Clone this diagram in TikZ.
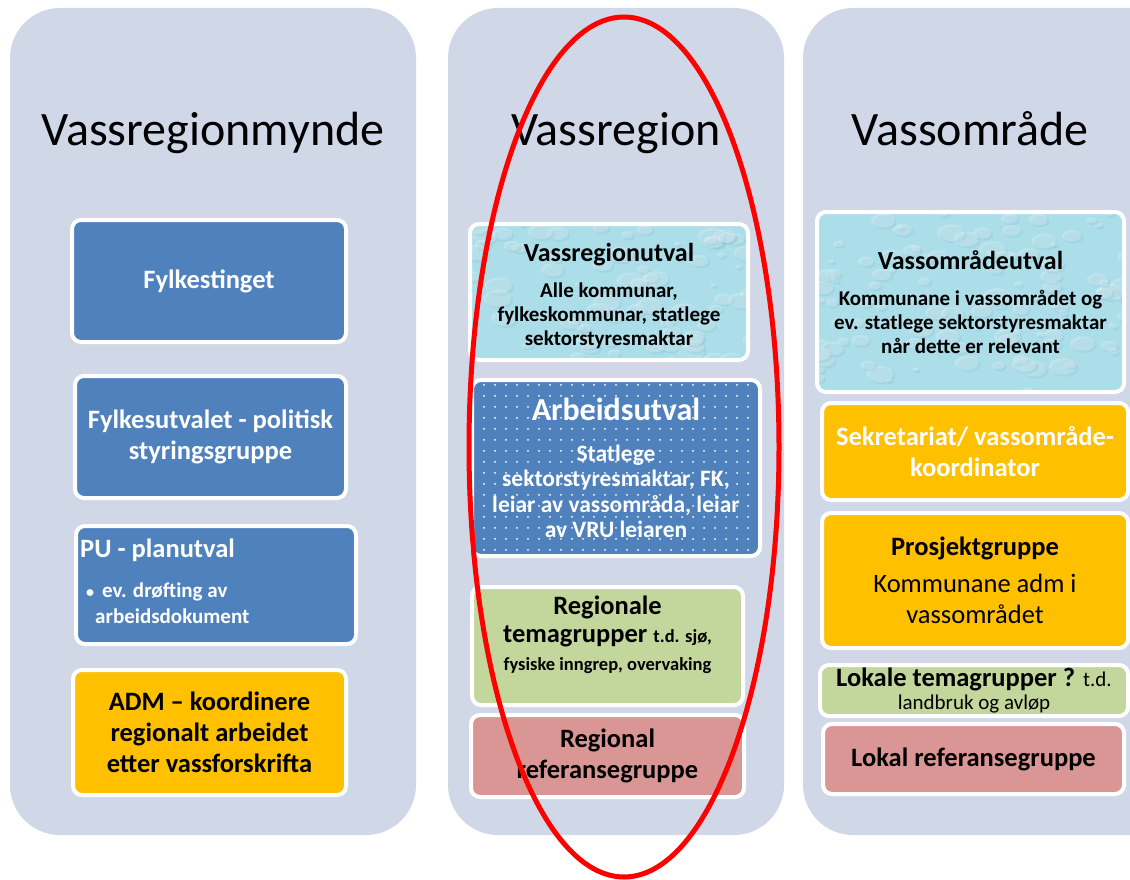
\documentclass[tikz,border=0pt]{standalone}
\usepackage{fontspec}
\setmainfont{Carlito}
\usetikzlibrary{positioning,patterns.meta,calc}
\definecolor{panelGray}{RGB}{208,216,232}
\definecolor{boxBlue}{RGB}{79,129,189}
\definecolor{boxOrange}{RGB}{255,192,0}
\definecolor{boxGreen}{RGB}{195,214,155}
\definecolor{boxPink}{RGB}{217,150,148}
\definecolor{waterCyan}{RGB}{172,222,233}
\definecolor{waterDark}{RGB}{105,170,192}
\definecolor{ringRed}{RGB}{255,0,0}
\tikzset{
  panel/.style={fill=panelGray, rounded corners=50pt},
  coltitle/.style={anchor=base, font=\fontsize{48}{58}\selectfont},
  box/.style={draw=white, line width=4pt, rounded corners=9pt, align=center, inner sep=3pt},
  bluebox/.style={box, fill=boxBlue, text=white, font=\fontsize{26.5}{31}\selectfont\bfseries},
  orangebox/.style={box, fill=boxOrange, font=\fontsize{26.5}{31}\selectfont\bfseries},
  greenbox/.style={box, fill=boxGreen, font=\fontsize{26.5}{30}\selectfont\bfseries},
  pinkbox/.style={box, fill=boxPink, font=\fontsize{26.5}{31}\selectfont\bfseries},
  dotbox/.style={box, fill=boxBlue, text=white, font=\fontsize{23.5}{25.5}\selectfont\bfseries,
    postaction={pattern={Dots[distance=11pt, radius=1pt]}, pattern color=white}},
  waterbox/.style={box, fill=waterCyan, font=\fontsize{21}{24}\selectfont\bfseries,
    path picture={
      \pgfmathsetseed{#1}
      \foreach \i in {1,...,110}{
        \pgfmathsetmacro\dx{rnd*320}
        \pgfmathsetmacro\dy{rnd*190}
        \pgfmathsetmacro\dr{3+rnd*11}
        \fill[waterDark, opacity=.16] ($(path picture bounding box.north west)+(\dx+2,\dy+2)$) ellipse[x radius=\dr, y radius=.6*\dr];
        \fill[white, opacity=.22] ($(path picture bounding box.north west)+(\dx,\dy)$) ellipse[x radius=\dr, y radius=.6*\dr];
      }}},
  boxtext/.style={align=center, inner sep=0pt}
}

\begin{document}
\begin{tikzpicture}[x=1pt, y=-1pt]
  \useasboundingbox (0,0) rectangle (1130,880);

  % columns
  \fill[panel] (10,8) rectangle (416,835);
  \fill[panel] (448,8) rectangle (784,835);
  \fill[panel] (803,8) rectangle (1180,835);
  \node[coltitle] (tmynde) at (213,146) {Vassregionmynde};
  \node[coltitle] (tregion) at (616,146) {Vassregion};
  \node[coltitle] (tomraade) at (970,146) {Vassområde};

  % Vassregionmynde
  \node[bluebox, minimum width=274pt, minimum height=122pt] (fylk) at (209,281) {Fylkestinget};
  \node[bluebox, minimum width=271pt, minimum height=122pt] (fylkut) at (210.5,437) {Fylkesutvalet - politisk\\styringsgruppe};
  \node[bluebox, minimum width=280pt, minimum height=118pt] (pu) at (216,585) {};
  \node[boxtext, align=left, text=white, font=\fontsize{21}{26}\selectfont\bfseries, below right=15pt and 6pt of pu.north west] (putxt)
    {{\fontsize{26.5}{30}\selectfont PU - planutval}\\[14pt]
     \hspace*{6pt}{\fontsize{16}{20}\selectfont\textbullet}\hspace{8pt}ev. drøfting av\\ \hspace*{15pt}arbeidsdokument};
  \node[orangebox, minimum width=273pt, minimum height=125pt] (adm) at (209.5,732.5) {ADM -- koordinere\\regionalt arbeidet\\etter vassforskrifta};

  % Vassregion
  \node[waterbox=3, minimum width=278pt, minimum height=136pt] (vru) at (609,292) {};
  \node[boxtext, font=\fontsize{21}{24}\selectfont\bfseries] (vrutxt) at (609,296)
    {{\fontsize{26}{28}\selectfont Vassregionutval}\\[12pt] Alle kommunar,\\fylkeskommunar, statlege\\sektorstyresmaktar};
  \node[dotbox, minimum width=288pt, minimum height=176pt] (au) at (616,468)
    {{\fontsize{32}{34}\selectfont Arbeidsutval}\\[15pt] Statlege\\sektorstyresmaktar, FK,\\leiar av vassområda, leiar\\av VRU leiaren};
  \node[greenbox, minimum width=271pt, minimum height=118pt] (rtg) at (607.5,646) {};
  \node[boxtext, font=\fontsize{26.5}{28}\selectfont\bfseries, below=11pt of rtg.north] (rtgtxt)
    {Regionale\\temagrupper {\fontsize{18.5}{22}\selectfont t.d. sjø,}\\{\fontsize{18.5}{22}\selectfont fysiske inngrep, overvaking}};
  \node[pinkbox, minimum width=273pt, minimum height=82pt] (rref) at (607.5,756) {Regional\\referansegruppe};

  % Vassområde
  \node[waterbox=11, minimum width=307pt, minimum height=180pt] (vou) at (970.5,302)
    {{\fontsize{26}{28}\selectfont Vassområdeutval}\\[12pt] Kommunane i vassområdet og\\ev. statlege sektorstyresmaktar\\når dette er relevant};
  \node[orangebox, text=white, minimum width=306pt, minimum height=97pt] (sekr) at (975,451.5) {Sekretariat/ vassområde-\\koordinator};
  \node[orangebox, minimum width=306pt, minimum height=135pt] (prosj) at (975,580.5)
    {Prosjektgruppe\\[6pt]\mdseries Kommunane adm i\\\mdseries vassområdet};
  \node[greenbox, font=\fontsize{26.5}{23}\selectfont\bfseries, inner sep=1pt, minimum width=308pt, minimum height=51pt] (ltg) at (974,690.5)
    {Lokale temagrupper ? {\mdseries\fontsize{21}{23}\selectfont t.d.}\\{\mdseries\fontsize{21}{23}\selectfont landbruk og avløp}};
  \node[pinkbox, minimum width=301pt, minimum height=70pt] (lref) at (973.5,759) {Lokal referansegruppe};

  % ring round the middle column
  \draw[ringRed, line width=5pt] (624,447) ellipse[x radius=155, y radius=430];
\end{tikzpicture}
\end{document}
